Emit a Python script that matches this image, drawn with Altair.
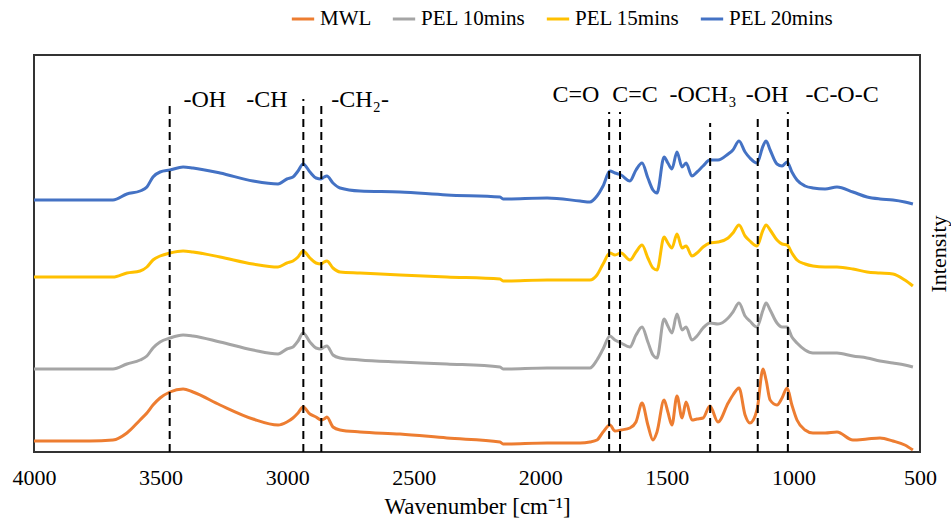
import altair as alt
import pandas as pd

series_names = ["MWL", "PEL 10mins", "PEL 15mins", "PEL 20mins"]
series_colors = ["#ED7D31", "#A5A5A5", "#FFC000", "#4472C4"]

wavenumber = [4000, 3897, 3779, 3688, 3633, 3581, 3554, 3530, 3502, 3463, 3411, 3372, 3265, 3135, 3036, 3001,
              2977, 2957, 2937, 2910, 2886, 2866, 2854, 2843, 2819, 2791, 2712, 2554, 2369, 2159, 2147, 1973,
              1843, 1804, 1776, 1752, 1725, 1705, 1681, 1646, 1622, 1598, 1575, 1555, 1539, 1511, 1496, 1480,
              1460, 1440, 1424, 1401, 1381, 1357, 1330, 1298, 1258, 1239, 1215, 1191, 1172, 1144, 1120, 1108,
              1092, 1065, 1045, 1025, 1006, 986, 954, 923, 875, 828, 765, 709, 658, 607, 560, 528]

mwl = [11, 11, 11, 12, 19, 32, 39, 47, 54, 60, 63, 60, 47, 33, 27, 30,
       34, 39, 45, 38, 35, 32, 33, 35, 25, 22, 20, 18, 14, 10, 8, 9,
       9, 10, 12, 20, 27, 21, 22, 24, 30, 49, 27, 12, 20, 52, 40, 27,
       56, 34, 50, 32, 33, 34, 46, 30, 49, 57, 64, 37, 29, 42, 83, 72,
       52, 47, 54, 64, 47, 32, 22, 19, 19, 20, 12, 13, 14, 11, 7, 2]

pel10 = [83, 83, 83, 83, 88, 92, 96, 104, 110, 114, 117, 116, 110, 102, 98, 103,
         105, 111, 119, 110, 104, 103, 105, 106, 97, 94, 92, 90, 88, 85, 83, 84,
         84, 84, 92, 103, 116, 112, 109, 105, 117, 125, 110, 97, 94, 133, 126, 119,
         138, 122, 125, 112, 116, 124, 129, 128, 134, 140, 149, 136, 131, 125, 142, 149,
         142, 129, 125, 125, 115, 109, 102, 99, 99, 99, 96, 94, 91, 89, 87, 85]

pel15 = [175, 175, 175, 175, 179, 181, 185, 192, 196, 199, 201, 200, 195, 188, 185, 189,
         191, 195, 201, 194, 189, 188, 190, 191, 184, 180, 179, 177, 175, 173, 171, 172,
         172, 172, 177, 188, 199, 197, 199, 192, 200, 207, 194, 184, 182, 215, 209, 204,
         218, 204, 206, 196, 199, 205, 209, 210, 214, 219, 227, 216, 211, 206, 222, 227,
         222, 212, 208, 207, 199, 192, 188, 186, 185, 185, 183, 180, 179, 178, 172, 166]

pel20 = [252, 252, 252, 252, 258, 261, 265, 275, 280, 282, 285, 284, 279, 271, 268, 273,
         275, 281, 288, 280, 274, 273, 275, 276, 269, 264, 261, 260, 257, 255, 253, 254,
         251, 250, 256, 266, 281, 279, 277, 271, 282, 289, 274, 262, 259, 295, 289, 283,
         300, 285, 289, 276, 280, 286, 292, 292, 298, 302, 311, 300, 294, 289, 306, 311,
         302, 288, 286, 290, 280, 272, 266, 264, 263, 265, 260, 255, 253, 252, 250, 248]

band_positions = [3464, 2936, 2865, 1728, 1685, 1329, 1141, 1022]
band_tops = [349, 353, 350, 340, 340, 329, 335, 340]

label_texts = ["-OH", "-CH", "-CH₂-", "C=O", "C=C", "-OCH₃", "-OH", "-C-O-C"]
label_positions = [3325, 3080, 2712, 1859, 1626, 1357, 1104, 808]
label_heights = [352, 352, 352, 357, 357, 357, 357, 357]

x_ticks = [4000, 3500, 3000, 2500, 2000, 1500, 1000, 500]

rows = []
for name, vals in zip(series_names, [mwl, pel10, pel15, pel20]):
    for w, v in zip(wavenumber, vals):
        rows.append({"wn": w, "intensity": v, "series": name})
df = pd.DataFrame(rows)

rules_df = pd.DataFrame({"wn": band_positions, "intensity": [0] * len(band_positions), "top": band_tops})
labels_df = pd.DataFrame({"wn": label_positions, "intensity": label_heights, "label": label_texts})

FONT = "'Liberation Serif', 'Times New Roman', Times, serif"

x_enc = alt.X("wn:Q",
              scale=alt.Scale(domain=[500, 4000], reverse=True, nice=False, zero=False),
              axis=alt.Axis(values=x_ticks, format="d", ticks=False, domain=False, grid=False,
                            labelFlush=False,
                            labelFont=FONT, labelFontSize=22, labelColor="black", labelPadding=15,
                            title="Wavenumber [cm⁻¹]", titleFont=FONT, titleFontSize=23,
                            titleFontWeight="normal", titleColor="black", titlePadding=7))
y_enc = alt.Y("intensity:Q",
              scale=alt.Scale(domain=[0, 397], nice=False, zero=False),
              axis=alt.Axis(orient="right", labels=False, ticks=False, domain=False, grid=False,
                            title="Intensity", titleAngle=270, titleFont=FONT, titleFontSize=22,
                            titleFontWeight="normal", titleColor="black", titlePadding=30))

lines = alt.Chart(df).mark_line(strokeWidth=3, interpolate="monotone").encode(
    x=x_enc,
    y=y_enc,
    color=alt.Color("series:N",
                    scale=alt.Scale(domain=series_names, range=series_colors),
                    legend=alt.Legend(title=None, orient="none", legendX=256, legendY=-49,
                                      direction="horizontal", symbolType="stroke", symbolSize=500,
                                      symbolStrokeWidth=3, labelFont=FONT, labelFontSize=21,
                                      labelColor="black", columnPadding=14, labelOffset=4)),
)

rules = alt.Chart(rules_df).mark_rule(color="black", strokeWidth=2, strokeDash=[8, 5]).encode(
    x="wn:Q", y="intensity:Q", y2="top:Q"
)

texts = alt.Chart(labels_df).mark_text(font=FONT, fontSize=24, color="black",
                                       baseline="middle", align="center").encode(
    x="wn:Q", y="intensity:Q", text="label:N"
)

chart = alt.layer(lines, rules, texts).properties(
    width=886, height=397,
    autosize=alt.AutoSizeParams(type="none"),
    padding={"left": 34, "top": 55, "right": 31, "bottom": 73},
).configure(font=FONT).configure_view(stroke="#333333", strokeWidth=2)

chart.save("out.html", embed_options={"renderer": "svg", "actions": False})
